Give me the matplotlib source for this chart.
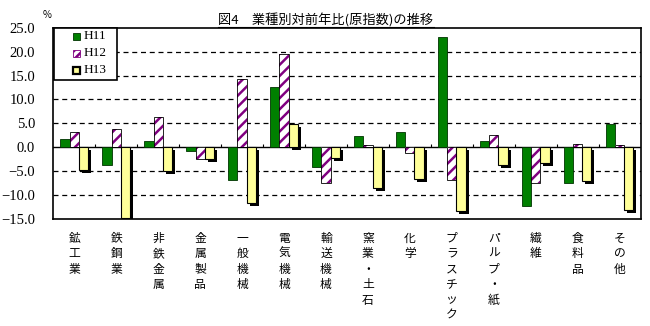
import numpy as np
import matplotlib.pyplot as plt
import matplotlib.transforms as mtransforms
from matplotlib.patches import Rectangle
from matplotlib.lines import Line2D

plt.rcParams['font.family'] = ['Noto Sans CJK JP', 'DejaVu Sans']
plt.rcParams['hatch.linewidth'] = 1.8

categories = ["鉱工業", "鉄鋼業", "非鉄金属", "金属製品", "一般機械", "電気機械", "輸送機械",
              "窯業・土石", "化学", "プラスチック", "パルプ・紙", "繊維", "食料品", "その他"]
h11 = [1.7, -3.7, 1.3, -0.8, -6.8, 12.6, -4.1, 2.4, 3.2, 23.0, 1.4, -12.2, -7.4, 4.8]
h12 = [3.1, 3.8, 6.4, -2.4, 14.3, 19.5, -7.4, 0.4, -1.1, -6.9, 2.5, -7.4, 0.6, 0.4]
h13 = [-4.8, -14.7, -5.0, -2.5, -11.7, 4.9, -2.3, -8.5, -6.7, -13.3, -3.8, -3.2, -7.1, -13.0]
series_names = ["H11", "H12", "H13"]
yticks = [-15, -10, -5, 0, 5, 10, 15, 20, 25]

GREEN = "#008000"
PURPLE = "#800080"
YELLOW = "#FFFF99"

W, H = 650, 326
fig = plt.figure(figsize=(W / 100, H / 100), dpi=100)
ax = fig.add_axes([0.082, 0.328, 0.9035, 0.587])

x = np.arange(len(categories))
w = 0.22

# grid lines (dashed), zero line solid
for yv in yticks[1:-1]:
    if yv == 0:
        ax.axhline(0, color="black", lw=1.0, zorder=1)
    else:
        ax.axhline(yv, color="black", lw=0.9, ls=(0, (4, 3)), zorder=0)

# H11
ax.bar(x - w, h11, w, color=GREEN, edgecolor="#003300", linewidth=0.6, zorder=3)
# H12 hatched
ax.bar(x, h12, w, color="white", edgecolor=PURPLE, hatch="///", linewidth=0, zorder=3)
ax.bar(x, h12, w, fill=False, edgecolor="black", linewidth=0.6, zorder=4)
# H13 with drop shadow
shadow = mtransforms.offset_copy(ax.transData, fig=fig, x=3, y=-3, units="dots")
ax.bar(x + w, h13, w, color="black", linewidth=0, transform=shadow, zorder=2)
ax.bar(x + w, h13, w, color=YELLOW, edgecolor="black", linewidth=0.8, zorder=3)

# category separators on the zero line
ax.vlines(x[:-1] + 0.5, 0, 0.6, color="black", lw=0.8, zorder=2)

ax.set_xlim(-0.5, len(categories) - 0.5)
ax.set_ylim(-15, 25)
ax.set_yticks(yticks)
ax.set_yticklabels([f"{v:.1f}".replace("-", "\u2212") for v in yticks],
                   family="Liberation Serif", fontsize=10.5)
ax.tick_params(axis="y", length=0, pad=13)
ax.set_xticks([])
for s in ax.spines.values():
    s.set_linewidth(1.2)

# vertical category labels
for xi, name in zip(x, categories):
    ax.text(xi, -0.065, "\n".join(name), transform=ax.get_xaxis_transform(),
            ha="center", va="top", fontsize=8.5, linespacing=1.25)

fig.text(47 / W, 1 - 15 / H, "%", ha="center", va="center", fontsize=7)

title = fig.text(326 / W, 1 - 20 / H, "図4\u3000業種別対前年比(原指数)の推移",
                 ha="center", va="center", fontsize=9.5)
fig.canvas.draw()
bb = title.get_window_extent().transformed(fig.transFigure.inverted())
fig.add_artist(Line2D([bb.x0, bb.x1], [1 - 26.5 / H] * 2, color="black", lw=0.8,
                      transform=fig.transFigure))


# legend box drawn in pixel units from the top-left of the figure
def px(xp, yp):
    return xp / W, 1 - yp / H


fig.add_artist(Rectangle(px(54.3, 80), 63 / W, 52.3 / H, transform=fig.transFigure,
                         facecolor="white", edgecolor="black", linewidth=1.2, zorder=10))
swatches = [
    dict(facecolor=GREEN, edgecolor="#003300", linewidth=0.6),
    dict(facecolor="white", edgecolor=PURPLE, hatch="////", linewidth=0.6),
    dict(facecolor=YELLOW, edgecolor="black", linewidth=1.6),
]
for row, (name, sw) in enumerate(zip(series_names, swatches)):
    yc = 36 + row * 17
    fig.add_artist(Rectangle(px(73, yc + 3.5), 7 / W, 7 / H, transform=fig.transFigure,
                             zorder=11, **sw))
    fig.text(*px(83.5, yc), name, ha="left", va="center", family="Liberation Serif",
             fontsize=9.5, zorder=11)

fig.savefig("out.png", dpi=100)
